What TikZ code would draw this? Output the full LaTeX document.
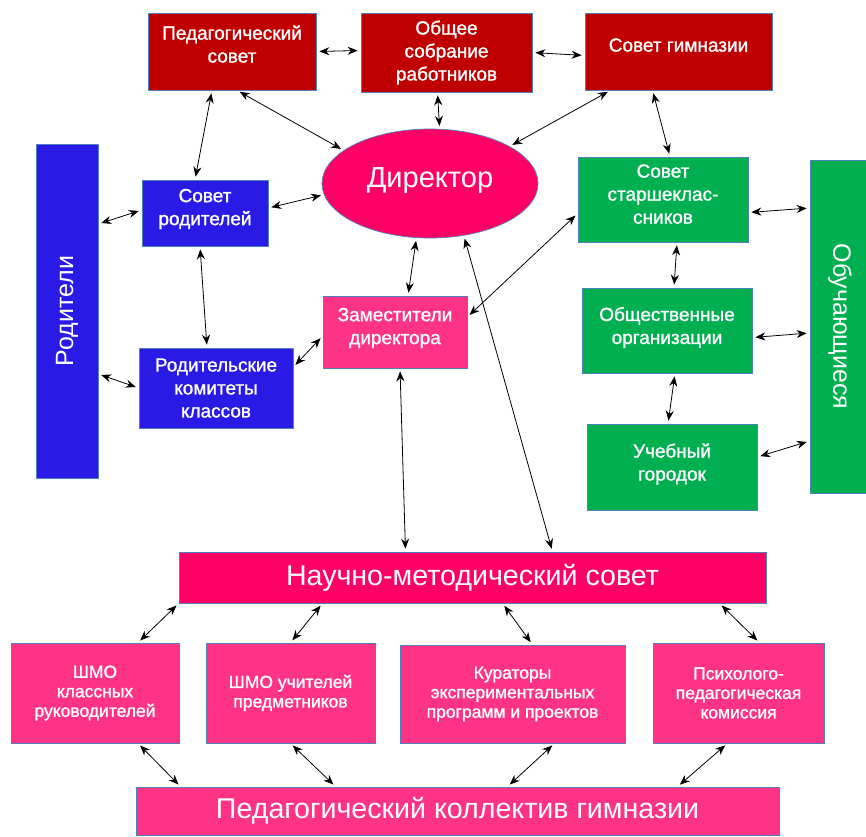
\documentclass[tikz,border=0pt]{standalone}
\usepackage{fontspec}
\setmainfont{Liberation Sans}
\newfontfamily\boxfont[FakeBold=1.2]{Liberation Sans}
\usetikzlibrary{arrows.meta,shapes.geometric}
\definecolor{darkred}{HTML}{C00000}
\definecolor{parblue}{HTML}{2A1AE6}
\definecolor{stgreen}{HTML}{00B050}
\definecolor{hotpink}{HTML}{FF0066}
\definecolor{softpink}{HTML}{FF3385}
\definecolor{edgeblue}{HTML}{4F81BD}
\tikzset{
  box/.style={draw=edgeblue, line width=0.7pt, text=white, align=center, inner sep=2pt,
    font=\boxfont\fontsize{19}{23}\selectfont},
  raised/.style={text depth=#1},
  lowbox/.style={box, fill=softpink, minimum height=100, font=\boxfont\fontsize{17.5}{19.5}\selectfont},
  bigbox/.style={box, font=\fontsize{28.6}{32}\selectfont},
  arr/.style={<->, >={Stealth[length=10pt,width=8pt]}, line width=0.8pt,
    shorten <=3pt, shorten >=3pt},
}
\begin{document}
\begin{tikzpicture}[x=1pt,y=-1pt]
    \useasboundingbox[fill=white] (0,0) rectangle (866,836);
    % top row
    \node[box, raised=15pt, fill=darkred, minimum width=168, minimum height=77] (ped) at (232,51.5) {Педагогический\\совет};
    \node[box, fill=darkred, minimum width=171, minimum height=79] (gen) at (446.5,52.5) {Общее\\собрание\\работников};
    \node[box, raised=13pt, fill=darkred, minimum width=187, minimum height=77] (gym) at (678.5,51.5) {Совет гимназии};
    \node[ellipse, draw=edgeblue, line width=0.7pt, fill=hotpink, text=white, minimum width=216, minimum height=109,
        text depth=12pt, font=\fontsize{29}{32}\selectfont] (dir) at (430,183.5) {Директор};
    % parents
    \node[box, fill=parblue, minimum width=62, minimum height=334, font=\fontsize{25}{28}\selectfont] (par) at (67,311) {\rotatebox{90}{Родители}};
    \node[box, raised=12pt, fill=parblue, minimum width=126, minimum height=66] (rs) at (205,213) {Совет\\родителей};
    \node[box, fill=parblue, minimum width=154, minimum height=80] (rk) at (216,388) {Родительские\\комитеты\\классов};
    \node[box, raised=12pt, fill=softpink, minimum width=144, minimum height=72] (zam) at (395,332) {Заместители\\директора};
    % students
    \node[box, fill=stgreen, minimum width=60, minimum height=333, font=\fontsize{25}{28}\selectfont] (stu) at (840,326.5) {\rotatebox{-90}{Обучающиеся}};
    \node[box, raised=11pt, fill=stgreen, minimum width=170, minimum height=85] (sst) at (663,199.5) {Совет\\старшеклас-\\сников};
    \node[box, raised=10pt, fill=stgreen, minimum width=170, minimum height=85] (soc) at (667,330.5) {Общественные\\организации};
    \node[box, raised=10pt, fill=stgreen, minimum width=170, minimum height=86] (ug) at (672,467) {Учебный\\городок};
    % methodical part
    \node[bigbox, fill=hotpink, minimum width=587, minimum height=51] (nms) at (472.5,577.5) {Научно-методический совет};
    \node[lowbox, minimum width=168] (shk) at (95,693) {ШМО\\классных\\руководителей};
    \node[lowbox, minimum width=169] (shu) at (290.5,693) {ШМО учителей\\предметников};
    \node[lowbox, minimum width=225, minimum height=98] (kur) at (512.5,694) {Кураторы\\экспериментальных\\программ и проектов};
    \node[lowbox, minimum width=171] (psy) at (738.5,693) {Психолого-\\педагогическая\\комиссия};
    \node[bigbox, fill=softpink, minimum width=643, minimum height=48] (pk) at (457.5,811) {Педагогический коллектив гимназии};

    % connectors
    \draw[arr] (ped.east) -- ([yshift=2pt]gen.west);
    \draw[arr] (gen.east) -- ([yshift=-4pt]gym.west);
    \draw[arr] ([xshift=-20pt]ped.south) -- ([xshift=-10pt]rs.north);
    \draw[arr] ([xshift=5pt]ped.south) -- (dir.159);
    \draw[arr] ([xshift=-9pt]gen.south) -- (dir.80);
    \draw[arr] ([xshift=-68pt]gym.south) -- (dir.25);
    \draw[arr] ([xshift=-26pt]gym.south) -- ([xshift=7pt]sst.north);
    \draw[arr] ([yshift=5pt]rs.east) -- (dir.186);
    \draw[arr] (par.east |- 0,224) -- ([yshift=3pt]rs.west);
    \draw[arr] ([xshift=-5pt]rs.south) -- ([xshift=-9pt]rk.north);
    \draw[arr] (par.east |- 0,374) -- (rk.west);
    \draw[arr] ([yshift=21pt]rk.east) -- ([yshift=-4pt]zam.west);
    \draw[arr] (dir.256) -- ([xshift=13pt]zam.north);
    \draw[arr] (dir.303) -- ([xshift=80pt]nms.north);
    \draw[arr] ([yshift=15pt]zam.east) -- ([yshift=-14pt]sst.west);
    \draw[arr] ([xshift=5pt]zam.south) -- ([xshift=-67pt]nms.north);
    \draw[arr] ([yshift=-13pt]sst.east) -- (stu.west |- 0,208);
    \draw[arr] ([xshift=14pt]sst.south) -- ([xshift=7pt]soc.north);
    \draw[arr] ([yshift=-7pt]soc.east) -- (stu.west |- 0,333);
    \draw[arr] ([xshift=8pt]soc.south) -- ([xshift=-4pt]ug.north);
    \draw[arr] ([yshift=10pt]ug.east) -- (stu.west |- 0,441);
    \draw[arr] (nms.south west) -- ([xshift=43pt]shk.north);
    \draw[arr] ([xshift=-150pt]nms.south) -- (shu.north);
    \draw[arr] ([xshift=30pt]nms.south) -- ([xshift=20pt]kur.north);
    \draw[arr] ([xshift=247pt]nms.south) -- ([xshift=21pt]psy.north);
    \draw[arr] ([xshift=43pt]shk.south) -- ([xshift=45pt]pk.north west);
    \draw[arr] (shu.south) -- ([xshift=200pt]pk.north west);
    \draw[arr] ([xshift=42pt]kur.south) -- ([xshift=50pt]pk.north);
    \draw[arr] ([xshift=-11pt]psy.south) -- ([xshift=220pt]pk.north);
\end{tikzpicture}
\end{document}
